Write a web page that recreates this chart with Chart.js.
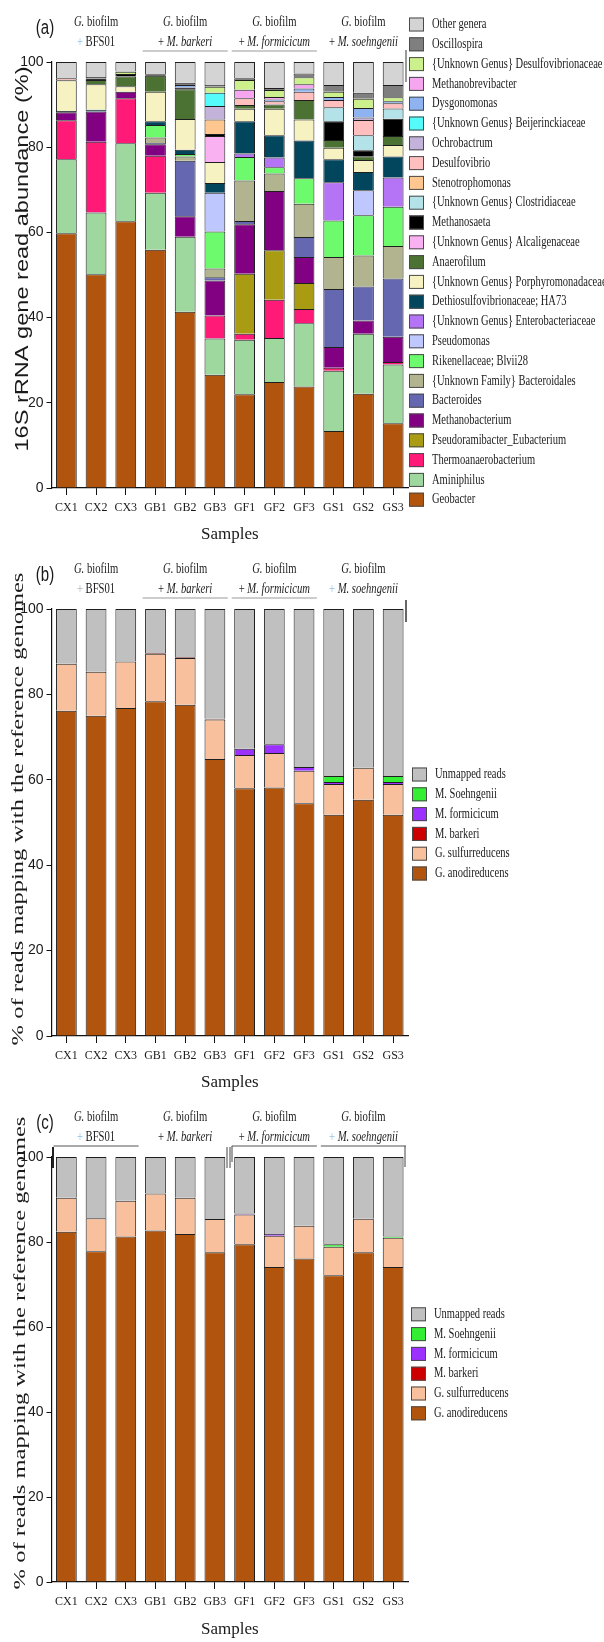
<!DOCTYPE html>
<html><head><meta charset="utf-8">
<script src="https://cdn.jsdelivr.net/npm/chart.js@4.4.1/dist/chart.umd.min.js"></script>
<style>
html,body{margin:0;padding:0;background:#fff;}
body{width:604px;height:1642px;position:relative;overflow:hidden;}
.wrap{position:absolute;left:0;width:604px;}
canvas{display:block;}
</style></head><body>
<div class="wrap" style="top:0;height:548px"><canvas id="cA" width="604" height="548"></canvas></div>
<div class="wrap" style="top:548px;height:548px"><canvas id="cB" width="604" height="548"></canvas></div>
<div class="wrap" style="top:1096px;height:546px"><canvas id="cC" width="604" height="546"></canvas></div>
<script>
// ---------- categories / ticks ----------
const samples = ['CX1','CX2','CX3','GB1','GB2','GB3','GF1','GF2','GF3','GS1','GS2','GS3'];
const yTicks = [0, 20, 40, 60, 80, 100];
const groupTitle = 'G. biofilm';
const groupSubs = ['BFS01', 'M. barkeri', 'M. formicicum', 'M. soehngenii'];
const groupMembers = [[0, 2], [3, 5], [6, 8], [9, 11]];

// ---------- panel (a): 16S rRNA gene read abundance (%) ----------
const geobacter          = [59.8, 50.2, 62.6, 55.9, 41.4, 26.6, 22.0, 24.9, 23.8, 13.4, 22.1, 15.2];
const aminiphilus        = [17.4, 14.5, 18.3, 13.4, 17.6,  8.5, 12.8, 10.3, 14.9, 14.1, 14.1, 13.8];
const thermoanaerobacterium = [9.1, 16.6, 10.6, 8.7, 0, 5.4, 1.4, 9.0, 3.3, 0.7, 0, 0.6];
const pseudoramibacter   = [0, 0, 0, 0, 0, 0, 14.1, 11.6, 6.1, 0, 0, 0];
const methanobacterium   = [1.9, 7.1, 1.5, 2.7, 4.8, 8.2, 11.6, 13.9, 6.1, 4.9, 3.1, 5.9];
const bacteroides        = [0, 0, 0, 0.3, 13.0, 0.8, 0.8, 0, 4.7, 13.6, 8.0, 13.7];
const bacteroidales      = [0, 0, 0, 1.3, 1.0, 2.0, 9.5, 4.1, 7.8, 7.5, 7.3, 7.6];
const blvii28            = [0, 0, 0, 2.9, 0.6, 8.7, 5.5, 1.5, 6.0, 8.6, 9.4, 9.2];
const pseudomonas        = [0, 0, 0, 0, 0, 9.1, 0, 0, 0, 0, 5.9, 0];
const enterobacteriaceae = [0, 0, 0, 0, 0, 0, 0.8, 2.3, 0, 9.0, 0, 6.9];
const ha73               = [0.3, 0.4, 0, 0.9, 1.0, 2.3, 7.6, 5.2, 8.9, 5.4, 4.3, 4.9];
const porphyromonadaceae = [7.2, 6.0, 1.3, 6.9, 7.2, 4.9, 2.9, 6.2, 4.9, 2.7, 2.8, 2.7];
const anaerofilum        = [0, 1.0, 2.3, 3.8, 7.0, 0, 0.9, 1.0, 4.6, 1.8, 0.9, 2.1];
const alcaligenaceae     = [0, 0, 0, 0, 0, 6.1, 0, 0, 0, 0, 0, 0];
const methanosaeta       = [0, 0.3, 0.6, 0.3, 0.4, 0.5, 0, 0, 0, 4.4, 1.4, 4.1];
const clostridiaceae     = [0, 0, 0, 0, 0, 0, 0, 0, 0, 3.3, 3.5, 2.4];
const stenotrophomonas   = [0, 0, 0, 0, 0, 3.4, 0, 0, 0, 0, 0, 0];
const desulfovibrio      = [0.5, 0, 0, 0, 0, 0, 1.6, 0.8, 1.9, 1.7, 3.6, 1.2];
const ochrobactrum       = [0, 0, 0, 0, 0, 3.2, 0, 0, 0, 0, 0.6, 0];
const beijerinckiaceae   = [0, 0, 0, 0, 0, 3.1, 0, 0, 0, 0, 0, 0];
const dysgonomonas       = [0, 0, 0, 0, 0.6, 0, 0, 0.4, 0.8, 0.7, 2.2, 0.5];
const methanobrevibacter = [0, 0, 0, 0, 0, 0, 2.0, 0.6, 1.0, 0, 0, 0];
const desulfovibrionaceae= [0, 0, 0.5, 0, 0, 1.4, 2.3, 1.6, 1.6, 1.2, 2.2, 0.9];
const oscillospira       = [0, 0.4, 0.1, 0, 0.5, 0.4, 0.4, 0.5, 0.9, 1.6, 1.4, 2.9];
const otherGenera        = [3.8, 3.5, 2.2, 2.9, 4.9, 5.4, 3.8, 6.1, 2.7, 5.4, 7.2, 5.4];

// ---------- panel (b): % of reads mapping (first set) ----------
const bAnodireducens = [76.2, 75.0, 76.8, 78.4, 77.6, 64.9, 58.0, 58.2, 54.5, 51.8, 55.3, 51.8];
const bSulfurreducens= [11.0, 10.3, 10.9, 11.1, 10.9,  9.2,  7.8,  8.1,  7.6,  7.2,  7.5,  7.2];
const bBarkeri       = [0, 0, 0, 0.2, 0.2, 0.2, 0, 0, 0, 0, 0, 0];
const bFormicicum    = [0, 0, 0, 0, 0, 0, 1.5, 2.0, 0.9, 0.5, 0, 0.5];
const bSoehngenii    = [0, 0, 0, 0, 0, 0, 0, 0, 0, 1.4, 0, 1.4];
const bUnmapped      = [12.8, 14.7, 12.3, 10.3, 11.3, 25.7, 32.7, 31.7, 37.0, 39.1, 37.2, 39.1];

// ---------- panel (c): % of reads mapping (second set) ----------
const cAnodireducens = [82.4, 77.8, 81.3, 82.7, 81.9, 77.6, 79.5, 74.1, 76.1, 72.2, 77.6, 74.1];
const cSulfurreducens= [ 8.0,  7.8,  8.4,  8.7,  8.5,  7.8,  7.0,  7.4,  7.7,  6.7,  7.9,  6.9];
const cBarkeri       = [0, 0, 0, 0, 0, 0, 0, 0, 0, 0, 0, 0];
const cFormicicum    = [0, 0, 0, 0, 0, 0, 0.2, 0.4, 0, 0, 0, 0];
const cSoehngenii    = [0, 0, 0, 0, 0, 0, 0, 0, 0, 0.6, 0, 0.3];
const cUnmapped      = [9.6, 14.4, 10.3, 8.6, 9.6, 14.6, 13.3, 18.1, 16.2, 20.5, 14.5, 18.7];

// ---------- series definitions (bottom -> top) ----------
const seriesA = [
  ['Geobacter', geobacter, '#b1540d'],
  ['Aminiphilus', aminiphilus, '#9fd89f'],
  ['Thermoanaerobacterium', thermoanaerobacterium, '#ff1a78'],
  ['Pseudoramibacter_Eubacterium', pseudoramibacter, '#a99c12'],
  ['Methanobacterium', methanobacterium, '#820082'],
  ['Bacteroides', bacteroides, '#6568b0'],
  ['{Unknown Family} Bacteroidales', bacteroidales, '#b2b48f'],
  ['Rikenellaceae; Blvii28', blvii28, '#6dfb6d'],
  ['Pseudomonas', pseudomonas, '#bfc7ff'],
  ['{Unknown Genus} Enterobacteriaceae', enterobacteriaceae, '#b574f5'],
  ['Dethiosulfovibrionaceae; HA73', ha73, '#02465e'],
  ['{Unknown Genus} Porphyromonadaceae', porphyromonadaceae, '#f7f2c2'],
  ['Anaerofilum', anaerofilum, '#4b7232'],
  ['{Unknown Genus} Alcaligenaceae', alcaligenaceae, '#f9b1f1'],
  ['Methanosaeta', methanosaeta, '#000000'],
  ['{Unknown Genus} Clostridiaceae', clostridiaceae, '#b3e3e8'],
  ['Stenotrophomonas', stenotrophomonas, '#ffc78f'],
  ['Desulfovibrio', desulfovibrio, '#ffbfbf'],
  ['Ochrobactrum', ochrobactrum, '#c3b2d9'],
  ['{Unknown Genus} Beijerinckiaceae', beijerinckiaceae, '#55fafa'],
  ['Dysgonomonas', dysgonomonas, '#8fb2f0'],
  ['Methanobrevibacter', methanobrevibacter, '#f5a6ef'],
  ['{Unknown Genus} Desulfovibrionaceae', desulfovibrionaceae, '#ccf08c'],
  ['Oscillospira', oscillospira, '#7f7f7f'],
  ['Other genera', otherGenera, '#d4d4d4']
];
const mapNames = ['G. anodireducens', 'G. sulfurreducens', 'M. barkeri', 'M. formicicum', 'M. Soehngenii', 'Unmapped reads'];
const mapColors = ['#b1540d', '#f8c09c', '#cc0000', '#9b30ff', '#33ee33', '#c0c0c0'];
const seriesB = [bAnodireducens, bSulfurreducens, bBarkeri, bFormicicum, bSoehngenii, bUnmapped].map((d, i) => [mapNames[i], d, mapColors[i]]);
const seriesC = [cAnodireducens, cSulfurreducens, cBarkeri, cFormicicum, cSoehngenii, cUnmapped].map((d, i) => [mapNames[i], d, mapColors[i]]);

// ---------- helpers ----------
const SERIF = "'Liberation Serif', 'Times New Roman', serif";
const SANS = "'Liberation Sans', Arial, sans-serif";
const NARROW = "'Liberation Sans Narrow', 'Arial Narrow', 'Liberation Sans', sans-serif";

function drawSegs(ctx, segs, x, y, size, family, sx, align) {
  let total = 0;
  segs.forEach(s => {
    ctx.font = (s.i ? 'italic ' : '') + size + 'px ' + family;
    s.w = ctx.measureText(s.t).width;
    total += s.w;
  });
  let start = x;
  if (align === 'center') start = x - total * sx / 2;
  else if (align === 'right') start = x - total * sx;
  ctx.save();
  ctx.translate(start, y);
  ctx.scale(sx, 1);
  ctx.textBaseline = 'middle';
  ctx.textAlign = 'left';
  let cx = 0;
  segs.forEach(s => {
    ctx.font = (s.i ? 'italic ' : '') + size + 'px ' + family;
    ctx.fillStyle = s.c || '#1a1a1a';
    ctx.fillText(s.t, cx, 0);
    cx += s.w;
  });
  ctx.restore();
}

const decorPlugin = {
  id: 'decor',
  afterDraw(chart, args, o) {
    const ctx = chart.ctx, xs = chart.scales.x, ca = chart.chartArea;
    const half = (xs.getPixelForValue(1) - xs.getPixelForValue(0)) / 2;
    ctx.save();
    // panel tag
    drawSegs(ctx, [{t: o.tag}], 45, ca.top - 34, 20, SANS, 0.75, 'center');
    // group headers
    groupMembers.forEach((g, gi) => {
      const x0 = xs.getPixelForValue(g[0]) - half, x1 = xs.getPixelForValue(g[1]) + half;
      const cx = xs.getPixelForValue((g[0] + g[1]) / 2);
      const parts = groupTitle.split(' ');
      drawSegs(ctx, [{t: parts[0], i: true}, {t: ' ' + parts.slice(1).join(' ')}], cx, ca.top - 39.5, 14, SERIF, 0.76, 'center');
      const sub = groupSubs[gi];
      drawSegs(ctx, [{t: '+', c: o.plus[gi]}, {t: ' ' + sub, i: gi > 0}], cx, ca.top - 19.5, 14, SERIF, 0.76, 'center');
      if (o.underline[gi]) {
        ctx.strokeStyle = o.lineColor; ctx.lineWidth = 1.2;
        ctx.beginPath(); ctx.moveTo(x0 + 2, ca.top - 11); ctx.lineTo(x1 - 2, ca.top - 11); ctx.stroke();
      }
    });
    (o.extraLines || []).forEach(L => {
      ctx.strokeStyle = L[4] || '#333'; ctx.lineWidth = L[5] || 1.2;
      ctx.beginPath(); ctx.moveTo(L[0], ca.top + L[1]); ctx.lineTo(L[2], ca.top + L[3]); ctx.stroke();
    });
    // y axis title (rotated, stretched along its length)
    ctx.save();
    ctx.translate(o.yTitle.x, o.yTitle.y);
    ctx.rotate(-Math.PI / 2);
    ctx.scale(o.yTitle.k, 1);
    ctx.font = o.yTitle.size + 'px ' + o.yTitle.family;
    ctx.fillStyle = '#1a1a1a';
    ctx.textAlign = 'center'; ctx.textBaseline = 'middle';
    ctx.fillText(o.yTitle.text, 0, 0);
    ctx.restore();
    // legend (top item = last dataset)
    const ds = chart.data.datasets;
    const n = ds.length;
    for (let i = 0; i < n; i++) {
      const d = ds[n - 1 - i];
      const y = o.legend.y0 + i * o.legend.step;
      ctx.fillStyle = d.backgroundColor;
      ctx.fillRect(o.legend.x, y - 7, 15, 14);
      ctx.strokeStyle = '#4a4a4a'; ctx.lineWidth = 1;
      ctx.strokeRect(o.legend.x + 0.5, y - 6.5, 14, 13);
      drawSegs(ctx, [{t: d.label}], o.legend.x + 23, y, 14, SERIF, 0.75, 'left');
    }
    ctx.restore();
  }
};

function makeChart(id, series, opts) {
  const datasets = series.map(s => ({
    label: s[0],
    data: s[1].map(v => (v > 0 ? v : null)),
    backgroundColor: s[2],
    borderColor: '#1e1e1e',
    borderWidth: 1,
    borderSkipped: 'start',
    barPercentage: 0.7,
    categoryPercentage: 1.0
  }));
  return new Chart(document.getElementById(id), {
    type: 'bar',
    data: {labels: samples, datasets},
    plugins: [decorPlugin],
    options: {
      responsive: false,
      animation: false,
      layout: {padding: {left: 0, right: 196, top: opts.top, bottom: 0}},
      plugins: {legend: {display: false}, tooltip: {enabled: false}, decor: opts.decor},
      scales: {
        x: {
          stacked: true,
          offset: true,
          grid: {display: true, drawOnChartArea: false, drawTicks: true, tickLength: 7, offset: false, color: '#111', lineWidth: 1},
          border: {display: true, color: '#111', width: 1.2},
          ticks: {color: '#1a1a1a', font: {family: SERIF, size: 12}, padding: 6, maxRotation: 0, autoSkip: false},
          title: {display: true, text: 'Samples', color: '#1a1a1a', font: {family: SERIF, size: 17}, padding: {top: 0, bottom: opts.titlePad}},
          afterFit: s => { s.height = 60; }
        },
        y: {
          stacked: true,
          min: 0, max: 100,
          afterBuildTicks: s => { s.ticks = yTicks.map(v => ({value: v})); },
          grid: {display: true, drawOnChartArea: false, drawTicks: true, tickLength: 5, color: '#111', lineWidth: 1},
          border: {display: true, color: '#111', width: 1.2},
          ticks: {color: '#1a1a1a', font: {family: NARROW, size: 14}, padding: 3},
          afterFit: s => { s.width = 51.5; }
        }
      }
    }
  });
}

makeChart('cA', seriesA, {
  top: 62, titlePad: 3,
  decor: {
    tag: '(a)',
    plus: ['#8fc3ea', '#222', '#222', '#222'],
    underline: [false, true, true, false],
    lineColor: '#9a9a9a',
    extraLines: [[406, -12, 406, 20, '#555', 1.2]],
    yTitle: {text: '16S rRNA gene read abundance (%)', x: 23, y: 259, size: 19, family: SANS, k: 1.24},
    legend: {x: 409, y0: 24.5, step: 19.8}
  }
});
makeChart('cB', seriesB, {
  top: 61, titlePad: 3,
  decor: {
    tag: '(b)',
    plus: ['#a9b4bf', '#222', '#222', '#8fc3ea'],
    underline: [false, true, true, false],
    lineColor: '#9a9a9a',
    extraLines: [[406, -9, 406, 13, '#333', 1.5]],
    yTitle: {text: '% of reads mapping with the reference genomes', x: 18, y: 261, size: 17.5, family: SERIF, k: 1.4},
    legend: {x: 412, y0: 226.5, step: 19.8}
  }
});
makeChart('cC', seriesC, {
  top: 61, titlePad: 2,
  decor: {
    tag: '(c)',
    plus: ['#8fc3ea', '#222', '#222', '#8fc3ea'],
    underline: [true, false, true, true],
    lineColor: '#555',
    extraLines: [[227, -10, 227, 11, '#444', 1], [230, -10, 230, 11, '#444', 1],
                 [232, -11, 232, 5, '#444', 1], [405, -11, 405, 10, '#444', 1],
                 [53, -10, 53, 11, '#222', 2]],
    yTitle: {text: '% of reads mapping with the reference genomes', x: 20, y: 257, size: 17.5, family: SERIF, k: 1.4},
    legend: {x: 411, y0: 218.3, step: 19.8}
  }
});
</script>
</body></html>
